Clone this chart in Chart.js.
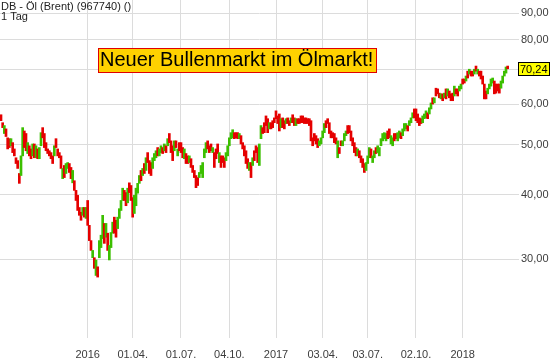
<!DOCTYPE html>
<html>
<head>
<meta charset="utf-8">
<script src="https://cdn.jsdelivr.net/npm/chart.js@4.4.1/dist/chart.umd.min.js"></script>
<style>
  html, body { margin: 0; padding: 0; background: #fff; }
  canvas { display: block; }
</style>
</head>
<body>
<canvas id="chart" width="560" height="362"></canvas>
<script>
// one bar per ~2 trading days, mid-2015 to spring 2018
const opens = [
  57.2, 55.2, 52.6, 53.7, 51.6, 51.4, 49.8, 50.5, 49.1, 47.2,
  46.6, 44.0, 43.6, 47.6, 53.2, 52.6, 48.1, 49.8, 49.1, 47.6,
  50.2, 47.2, 49.1, 47.0, 49.8, 54.0, 52.6, 50.5, 49.1, 48.7,
  48.3, 47.6, 47.6, 51.4, 49.1, 48.3, 47.6, 43.0, 45.6, 44.0,
  45.0, 46.0, 45.2, 42.2, 42.6, 40.8, 39.9, 37.8, 37.0, 36.5,
  37.8, 36.0, 39.0, 34.9, 32.6, 30.2, 30.2, 27.9, 29.0, 30.2,
  31.6, 32.9, 35.2, 33.1, 33.7, 29.9, 31.6, 33.7, 36.2, 35.7,
  34.4, 36.0, 37.3, 39.0, 40.8, 40.4, 38.6, 42.2, 41.7, 39.5,
  36.8, 38.1, 40.3, 42.1, 44.6, 43.6, 46.0, 44.6, 48.3, 46.6,
  46.2, 45.0, 46.6, 47.2, 49.4, 47.6, 48.3, 49.4, 48.7, 49.8,
  49.8, 52.6, 50.9, 49.8, 48.7, 50.9, 47.6, 50.5, 50.5, 49.4,
  47.0, 48.1, 47.6, 46.2, 47.0, 45.6, 44.6, 43.6, 43.2, 43.2,
  44.0, 43.2, 47.2, 48.3, 50.9, 49.8, 50.2, 48.3, 48.3, 49.1,
  50.2, 46.2, 47.6, 47.6, 47.2, 46.6, 47.6, 49.8, 51.4, 51.6,
  52.8, 52.8, 52.8, 51.4, 52.1, 50.5, 49.8, 48.7, 47.0, 44.6,
  46.2, 45.6, 48.7, 49.8, 49.4, 45.6, 51.4, 54.0, 55.2, 56.9,
  56.2, 53.7, 55.2, 55.7, 56.4, 58.2, 56.9, 57.4, 54.0, 56.4,
  55.7, 55.0, 56.4, 55.7, 55.2, 57.2, 56.4, 54.5, 56.2, 56.2,
  56.9, 56.9, 56.4, 56.4, 56.2, 56.2, 55.7, 51.6, 52.6, 52.1,
  51.4, 49.8, 50.2, 51.6, 52.8, 55.7, 56.2, 55.2, 53.2, 52.8,
  52.6, 51.6, 47.2, 49.4, 50.9, 49.8, 50.9, 52.1, 54.5, 54.5,
  53.2, 51.6, 50.5, 49.4, 47.6, 48.7, 47.6, 47.0, 46.0, 44.6,
  46.0, 47.2, 49.1, 46.2, 47.2, 49.4, 48.3, 47.6, 49.8, 50.9,
  51.4, 50.9, 53.2, 53.7, 50.2, 49.8, 52.6, 52.6, 50.9, 51.6,
  52.8, 52.1, 53.2, 53.7, 54.5, 54.5, 55.2, 56.4, 58.7, 58.7,
  57.4, 56.4, 56.2, 55.2, 56.2, 56.4, 57.7, 57.4, 58.7, 61.7,
  60.3, 64.4, 64.2, 63.0, 61.4, 62.8, 61.7, 64.2, 62.2, 63.6,
  62.8, 63.0, 62.2, 64.2, 64.2, 63.6, 64.2, 67.1, 67.1, 66.5,
  69.5, 68.6, 69.5, 69.5, 68.6, 71.1, 68.6, 69.5, 69.5, 68.0,
  65.6, 63.6, 62.8, 64.2, 65.0, 65.9, 66.5, 65.6, 65.6, 65.6,
  64.4, 65.9, 68.0, 68.9, 71.1
];
const closes = [
  55.7, 54.0, 54.5, 51.9, 49.1, 49.4, 51.4, 48.3, 47.6, 46.0,
  45.0, 42.1, 47.6, 54.0, 49.4, 48.7, 50.5, 47.6, 47.0, 50.2,
  47.2, 49.8, 47.0, 49.4, 52.8, 51.6, 49.4, 48.7, 48.1, 47.6,
  47.0, 46.0, 49.8, 49.4, 47.6, 47.2, 45.0, 45.0, 43.2, 46.0,
  46.2, 44.2, 43.0, 44.6, 40.8, 39.0, 37.3, 36.5, 35.7, 37.8,
  36.2, 37.8, 34.9, 32.6, 31.2, 31.2, 28.8, 29.9, 27.7, 32.6,
  33.4, 36.5, 32.2, 35.2, 31.2, 31.9, 33.8, 35.4, 33.7, 33.1,
  36.2, 37.6, 39.0, 41.2, 39.0, 38.1, 41.2, 40.4, 39.0, 36.2,
  39.9, 41.2, 42.1, 43.6, 42.6, 45.0, 44.0, 47.2, 46.2, 44.0,
  43.6, 47.2, 48.1, 48.7, 47.6, 49.1, 49.8, 48.1, 50.2, 48.3,
  51.4, 50.5, 48.3, 46.6, 50.9, 49.4, 49.1, 48.7, 48.3, 47.2,
  49.1, 46.0, 46.0, 47.6, 45.2, 44.2, 43.2, 41.3, 41.7, 44.2,
  45.6, 46.2, 49.1, 50.5, 49.1, 48.3, 48.7, 49.4, 45.2, 47.0,
  48.1, 48.3, 45.2, 46.2, 45.2, 48.3, 49.8, 51.6, 52.8, 53.5,
  51.4, 51.6, 51.4, 52.6, 50.2, 49.1, 47.6, 46.0, 45.0, 46.2,
  43.2, 47.2, 46.6, 48.3, 46.2, 50.2, 54.5, 52.6, 52.8, 54.5,
  52.8, 55.2, 53.7, 54.0, 55.2, 56.2, 55.0, 53.2, 56.2, 54.0,
  53.7, 56.2, 55.0, 54.5, 56.4, 55.2, 54.5, 56.2, 55.0, 55.0,
  55.2, 55.2, 55.0, 55.0, 55.0, 54.5, 50.9, 49.8, 50.9, 50.2,
  49.4, 50.9, 51.6, 53.2, 55.0, 54.0, 55.0, 52.6, 51.6, 51.6,
  50.5, 50.2, 50.9, 48.1, 49.8, 50.9, 52.6, 53.2, 52.6, 52.8,
  50.9, 49.8, 48.3, 47.6, 49.1, 47.2, 46.2, 45.2, 44.2, 46.2,
  47.6, 49.4, 47.2, 47.6, 48.7, 48.1, 49.8, 49.4, 51.4, 52.6,
  52.8, 52.6, 51.4, 51.6, 52.1, 51.6, 50.9, 51.4, 52.8, 53.2,
  51.4, 53.7, 55.0, 55.0, 53.2, 55.7, 56.4, 57.7, 56.4, 55.7,
  55.2, 54.5, 55.0, 56.9, 57.4, 58.2, 56.2, 59.0, 60.3, 60.0,
  61.7, 62.2, 62.8, 61.7, 62.8, 60.9, 63.0, 61.4, 64.2, 61.7,
  60.9, 60.9, 65.0, 62.8, 62.2, 65.0, 65.6, 65.6, 65.9, 68.0,
  67.4, 70.1, 68.0, 68.0, 70.1, 69.5, 70.1, 68.0, 67.1, 65.6,
  61.4, 61.4, 64.4, 65.6, 67.1, 67.4, 62.8, 63.0, 63.6, 63.0,
  66.5, 68.0, 69.5, 70.8, 70.24
];
// bar index where each date label falls
const tickBars = [52, 79, 108, 137, 165, 193, 220, 249, 277];
const tickLabels = ['2016', '01.04.', '01.07.', '04.10.', '2017', '03.04.', '03.07.', '02.10.', '2018'];
const priceTicks = [30, 40, 50, 60, 70, 80, 90];

const chartTitle = 'DB - Öl (Brent) (967740) ()';
const periodLabel = '1 Tag';
const headline = 'Neuer Bullenmarkt im Ölmarkt!';

const UP = '#3cbf00';
const DOWN = '#e50000';
const GRID = '#dcdcdc';
const TEXT = '#3c3c3c';
const FONT = '"Liberation Sans", Arial, sans-serif';

const fmt = v => v.toFixed(2).replace('.', ',');

const bars = opens.map((o, i) => ({ x: i, y: [o, closes[i]] }));
const barColors = opens.map((o, i) => (closes[i] >= o ? UP : DOWN));
const lastPrice = closes[closes.length - 1];

// header text, headline box and last price tag
const overlay = {
    id: 'overlay',
    afterDraw(chart) {
        const ctx = chart.ctx;
        ctx.save();
        ctx.textAlign = 'left';
        ctx.textBaseline = 'alphabetic';
        ctx.fillStyle = '#222';
        ctx.font = '11px ' + FONT;
        ctx.fillText(chartTitle, 1, 10);
        ctx.fillText(periodLabel, 1, 20);

        ctx.fillStyle = '#ffd200';
        ctx.fillRect(98, 48, 278, 24);
        ctx.strokeStyle = '#e00000';
        ctx.lineWidth = 1;
        ctx.strokeRect(98.5, 48.5, 278, 24);
        ctx.fillStyle = '#000';
        ctx.font = '20px ' + FONT;
        ctx.fillText(headline, 100, 66);

        const py = Math.round(chart.scales.y.getPixelForValue(lastPrice));
        ctx.fillStyle = '#ffff00';
        ctx.fillRect(518, py - 7, 31, 14);
        ctx.strokeStyle = '#000';
        ctx.strokeRect(518.5, py - 6.5, 31, 13);
        ctx.fillStyle = '#000';
        ctx.font = '11px ' + FONT;
        ctx.textBaseline = 'middle';
        ctx.fillText(fmt(lastPrice), 520, py + 0.5);
        ctx.restore();
    }
};

Chart.defaults.font.family = FONT;
Chart.defaults.font.size = 11;

new Chart(document.getElementById('chart').getContext('2d'), {
    type: 'bar',
    data: {
        datasets: [{
            data: bars,
            backgroundColor: barColors,
            borderWidth: 0,
            barThickness: 2,
            grouped: false
        }]
    },
    options: {
        responsive: false,
        animation: false,
        events: [],
        devicePixelRatio: 1,
        layout: { padding: 0 },
        plugins: {
            legend: { display: false },
            tooltip: { enabled: false }
        },
        scales: {
            x: {
                type: 'linear',
                offset: false,
                min: -0.6,
                max: 310.8,
                afterFit(s) {
                    s.height = 24;
                    s.paddingLeft = 0;
                    s.paddingRight = 0;
                },
                afterBuildTicks(s) { s.ticks = tickBars.map(v => ({ value: v })); },
                grid: { color: GRID, drawTicks: false, offset: false },
                border: { display: false },
                ticks: {
                    autoSkip: false,
                    maxRotation: 0,
                    padding: 10,
                    color: TEXT,
                    callback: v => tickLabels[tickBars.indexOf(v)]
                }
            },
            y: {
                type: 'logarithmic',
                position: 'right',
                min: 21.1,
                max: 95.5,
                afterFit(s) {
                    s.width = 41;
                    s.paddingTop = 0;
                    s.paddingBottom = 0;
                },
                afterBuildTicks(s) { s.ticks = priceTicks.map(v => ({ value: v })); },
                grid: { color: GRID, drawTicks: false },
                border: { display: false },
                ticks: {
                    autoSkip: false,
                    padding: 2,
                    color: TEXT,
                    callback: v => (v === 70 ? '' : fmt(v))
                }
            }
        }
    },
    plugins: [overlay]
});
</script>
</body>
</html>
